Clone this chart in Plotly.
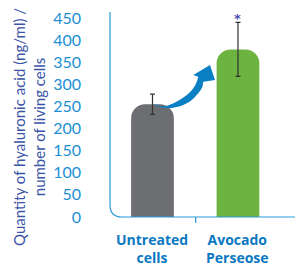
import plotly.graph_objects as go

categories = ["Untreated<br>cells", "Avocado<br>Perseose"]
values = [255, 379]
errors = [23, 61]
bar_colors = ["#6d6e71", "#6db33f"]
y_ticks = [0, 50, 100, 150, 200, 250, 300, 350, 400, 450]

L, T, B, W, H = 110, 12, 53, 295, 270
pw, ph = W - L, H - T - B

def dx(px):
    return (px - L) / pw

def dy(py):
    return (H - B - py) / ph

fig = go.Figure()
fig.add_trace(go.Bar(
    x=[0, 1], y=values,
    marker=dict(color=bar_colors, line=dict(width=0)),
    width=0.5,
    error_y=dict(type="data", array=errors, color="#333333", thickness=1.2, width=2.5),
))

# asterisk over the treated bar
fig.add_annotation(x=1, y=values[1] + errors[1], text="<b>*</b>", showarrow=False,
                   yanchor="bottom", yshift=-6,
                   font=dict(family="DejaVu Sans", size=13, color="#4a4fb0"))

# category labels
for i, cat in enumerate(categories):
    fig.add_annotation(x=i, xref="x", yref="paper", y=dy(249),
                       yanchor="middle", showarrow=False, text=f"<b>{cat}</b>",
                       font=dict(family="Open Sans", size=14, color="#0a78c2"))

# axis frame with rounded corner
r = 12
frame = (f"M {dx(L)},{dy(T)} L {dx(L)},{dy(H-B-r)} "
         f"Q {dx(L)},{dy(H-B)} {dx(L+r)},{dy(H-B)} L {dx(W)},{dy(H-B)}")
fig.add_shape(type="path", xref="x domain", yref="y domain", path=frame,
              line=dict(color="#2a9ad8", width=1.2))
fig.add_shape(type="line", xref="x domain", yref="y domain",
              x0=dx(195.7), x1=dx(195.7), y0=dy(H-B), y1=dy(H-B+6),
              line=dict(color="#2a9ad8", width=1.2))

# curved arrow
path = f"M {dx(153.3)},{dy(104.3)} "
path += f"C {dx(165)},{dy(111.5)} {dx(185)},{dy(108)} {dx(195)},{dy(97)} "
path += f"S {dx(202)},{dy(86)} {dx(203.3)},{dy(81.7)} "
for (px, py) in [(215, 80), (210, 65), (193.3, 75)]:
    path += f"L {dx(px)},{dy(py)} "
path += f"L {dx(198.3)},{dy(76.7)} "
path += f"C {dx(196)},{dy(88)} {dx(188)},{dy(96)} {dx(175)},{dy(102.5)} "
path += f"S {dx(160)},{dy(105.5)} {dx(153.3)},{dy(104.3)} Z"
fig.add_shape(type="path", xref="x domain", yref="y domain", path=path,
              fillcolor="#0a7fc4", line=dict(width=0))

# y title
fig.add_annotation(xref="paper", yref="paper", x=-L / pw + 8 / pw, y=dy(127),
                   xanchor="left", yanchor="middle", textangle=-90, showarrow=False,
                   text="Quantity of hyaluronic acid (ng/ml) /<br>number of living cells",
                   font=dict(family="Lato", size=15, color="#3a55a8"))

fig.update_layout(
    width=W, height=H,
    margin=dict(l=L, r=0, t=T, b=B),
    paper_bgcolor="white", plot_bgcolor="white",
    showlegend=False,
    barcornerradius=14,
    xaxis=dict(range=[-0.497, 1.667], showticklabels=False,
               showline=False, showgrid=False, zeroline=False, ticks=""),
    yaxis=dict(range=[0, 463.6], tickmode="array", tickvals=y_ticks,
               tickfont=dict(family="Lato", size=16, color="#1a8fd4"),
               showline=False, showgrid=False, zeroline=False, ticks="", ticklabelstandoff=28),
)

fig.write_html("out.html", config={"displayModeBar": False},
               post_script="document.body.style.margin='0';")
